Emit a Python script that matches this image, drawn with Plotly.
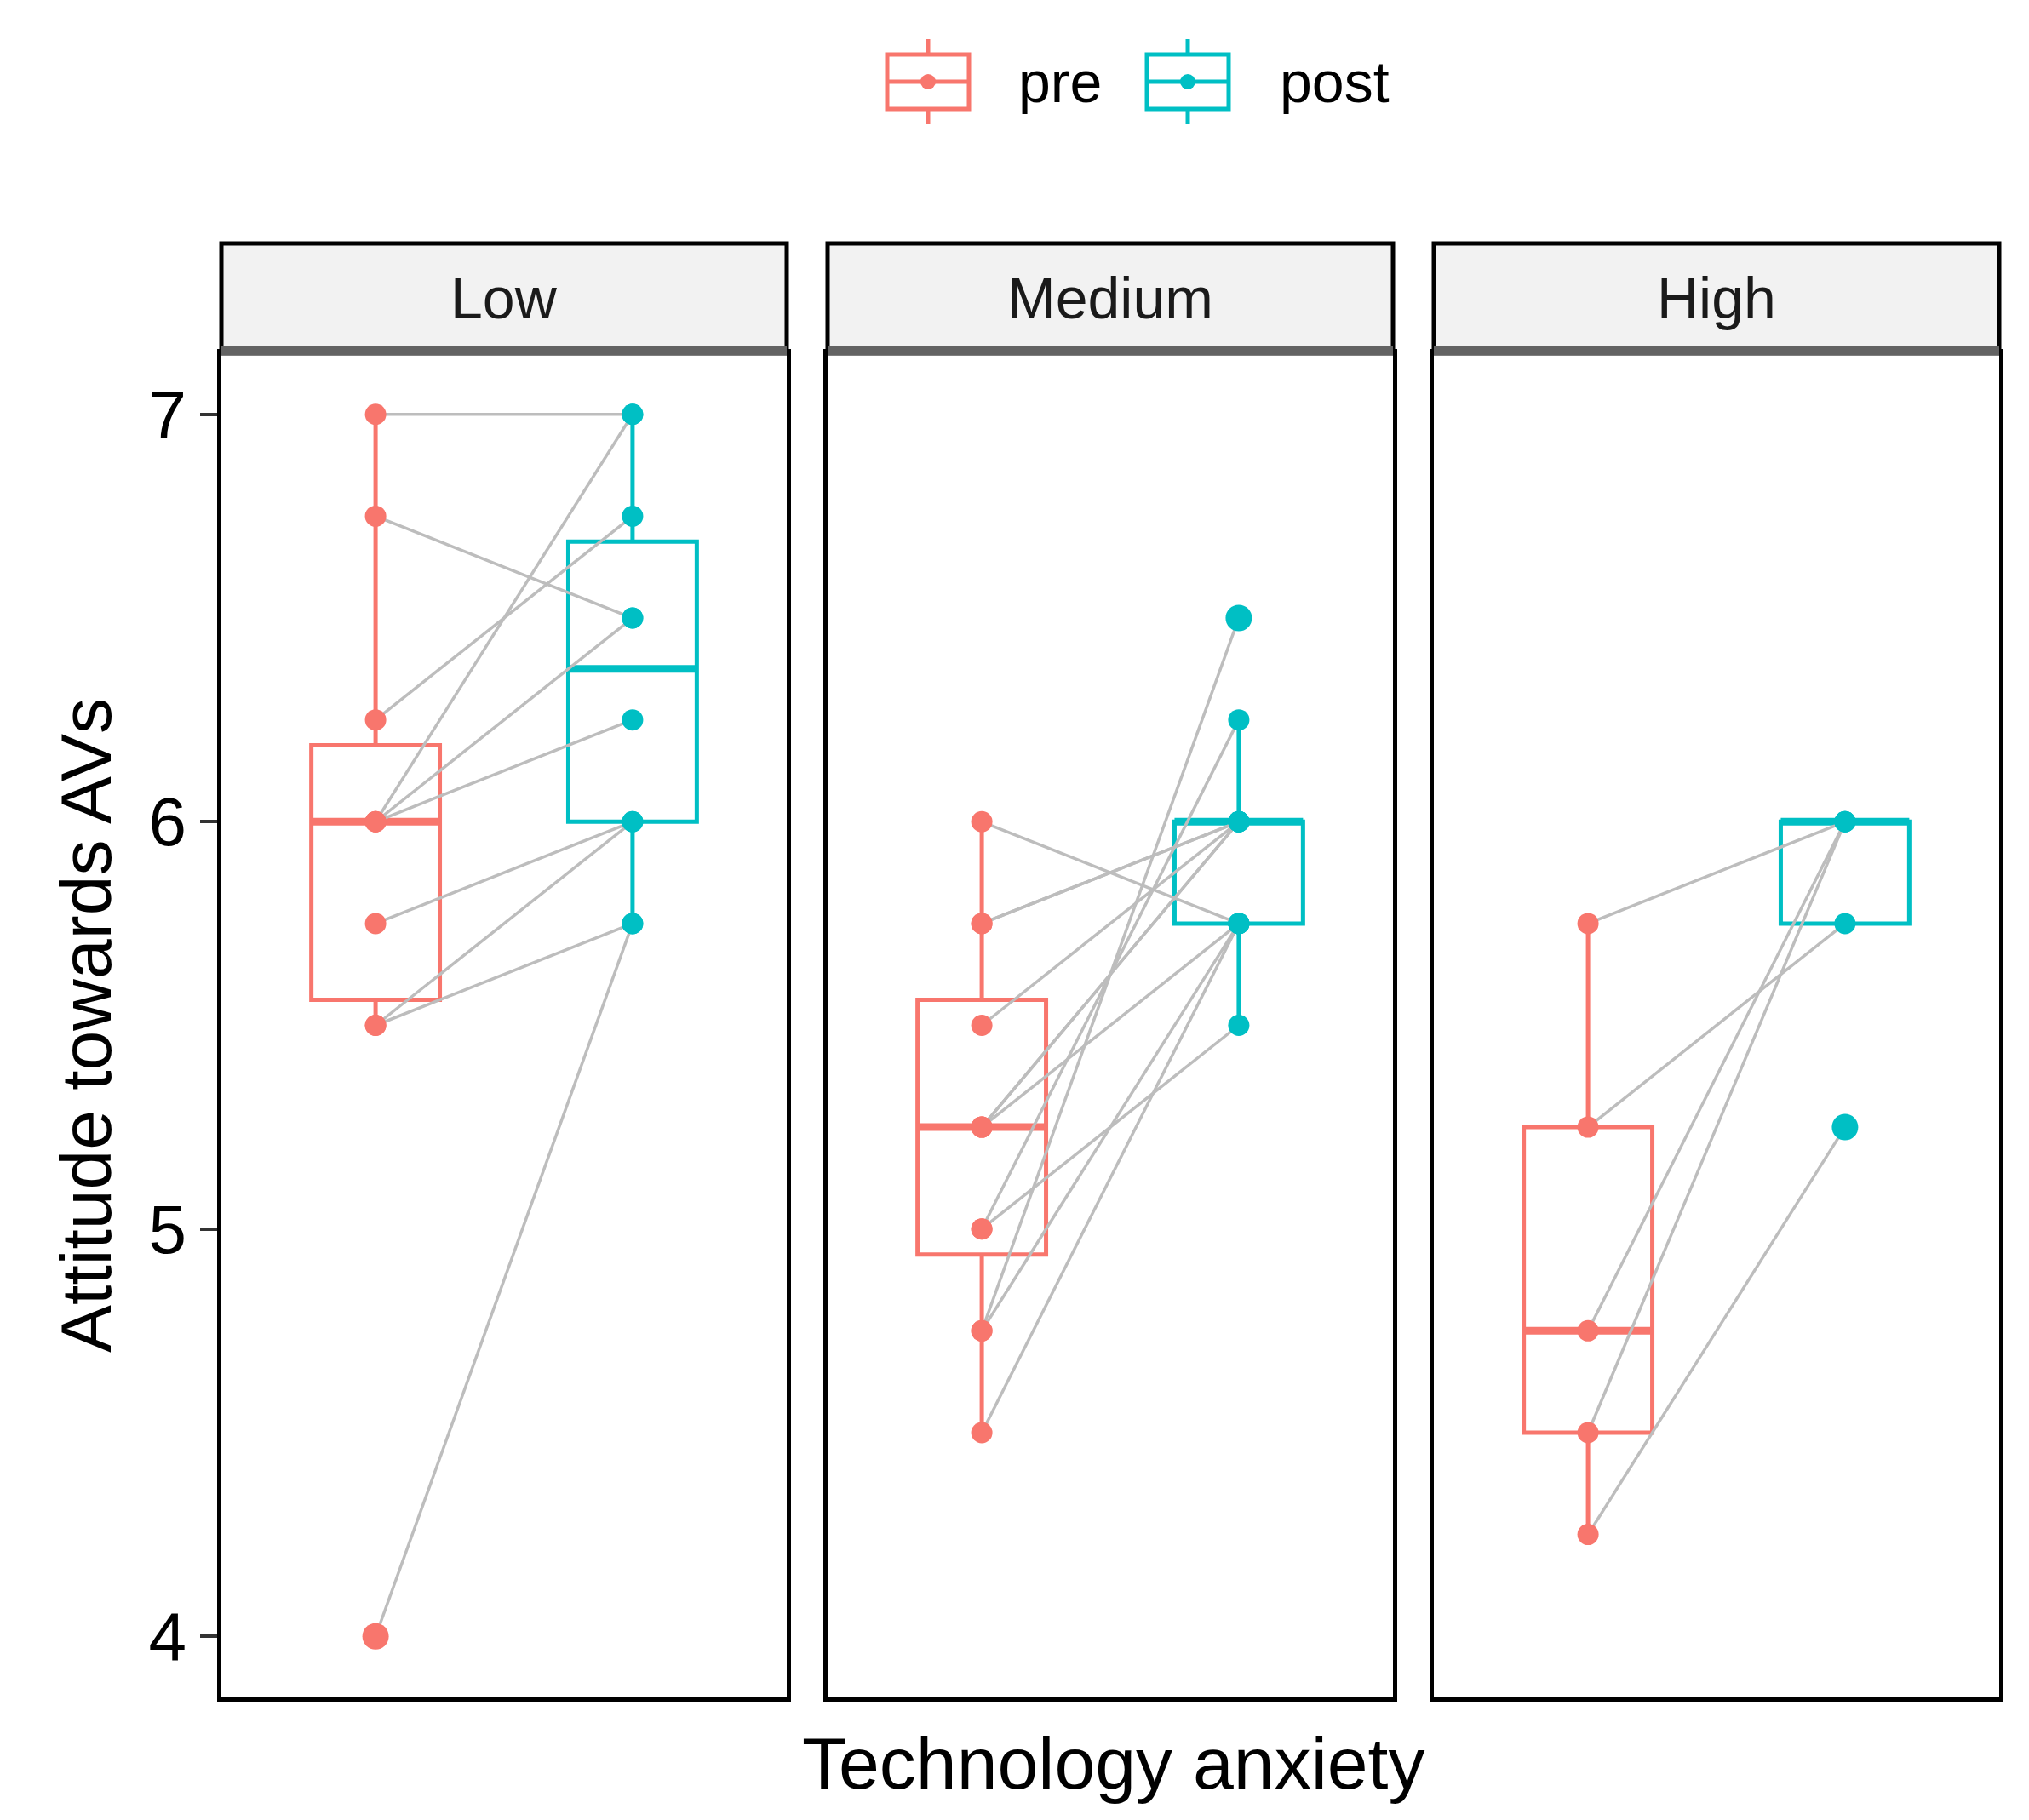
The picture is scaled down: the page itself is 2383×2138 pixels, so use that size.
import numpy as np
import plotly.graph_objects as go

# ---------------- data ----------------
panels = ["Low", "Medium", "High"]
conditions = ["pre", "post"]

low_pre = [7, 6.75, 6.25, 6, 6, 6, 5.75, 5.5, 5.5, 4]
low_post = [7, 6.5, 6.75, 7, 6.5, 6.25, 6, 6, 5.75, 5.75]

medium_pre = [6, 5.75, 5.75, 5.5, 5.25, 5.25, 5.25, 5, 5, 4.75, 4.75, 4.5]
medium_post = [5.75, 6, 6, 6, 6, 6, 5.75, 5.5, 6.25, 6.5, 5.75, 5.75]

high_pre = [5.75, 5.25, 4.75, 4.5, 4.25]
high_post = [6, 5.75, 6, 6, 5.25]

y_ticks = [4, 5, 6, 7]
y_title = "Attitude towards AVs"
x_title = "Technology anxiety"

# ---------------- styling ----------------
colors = {"pre": "#F8766D", "post": "#00BFC4"}
W, H = 2383, 2138
ML, MR, MT, MB = 252, 37, 407, 152
PW, PH = W - ML - MR, H - MT - MB
FONT = "Liberation Sans, Arial, sans-serif"

series = {"Low": (low_pre, low_post),
          "Medium": (medium_pre, medium_post),
          "High": (high_pre, high_post)}
panel_w, gap = 664, 48
domains = []
for k in range(3):
    a = k * (panel_w + gap)
    domains.append([a / PW, min(1.0, (a + panel_w) / PW)])

fig = go.Figure()
layout_axes = {}
shapes = []
annotations = []

for i, pname in enumerate(panels):
    sfx = "" if i == 0 else str(i + 1)
    xa, ya = "x" + sfx, "y" + sfx
    pre, post = series[pname]

    for j, (cond, vals) in enumerate(zip(conditions, (pre, post))):
        v = np.array(vals, dtype=float)
        q1, med, q3 = np.percentile(v, [25, 50, 75])
        iqr = q3 - q1
        lo = v[v >= q1 - 1.5 * iqr].min()
        hi = v[v <= q3 + 1.5 * iqr].max()
        fig.add_trace(go.Box(
            x=[j], q1=[q1], median=[med], q3=[q3],
            lowerfence=[lo], upperfence=[hi],
            width=0.5, whiskerwidth=0, boxpoints=False,
            fillcolor="rgba(255,255,255,0)",
            line=dict(color=colors[cond], width=5),
            xaxis=xa, yaxis=ya, showlegend=False, hoverinfo="skip"))
        # thicker median bar (ggplot style)
        fig.add_trace(go.Scatter(
            x=[j - 0.25, j + 0.25], y=[med, med], mode="lines",
            line=dict(color=colors[cond], width=9),
            xaxis=xa, yaxis=ya, showlegend=False, hoverinfo="skip"))

    # paired grey lines
    lx, ly = [], []
    for a, b in zip(pre, post):
        lx += [0, 1, None]
        ly += [a, b, None]
    fig.add_trace(go.Scatter(
        x=lx, y=ly, mode="lines", line=dict(color="#BDBDBD", width=3.5),
        xaxis=xa, yaxis=ya, showlegend=False, hoverinfo="skip"))

    # points (outliers slightly larger, like the boxplot outliers)
    for j, (cond, vals) in enumerate(zip(conditions, (pre, post))):
        v = np.array(vals, dtype=float)
        q1, q3 = np.percentile(v, [25, 75])
        iqr = q3 - q1
        sizes = [31 if (val < q1 - 1.5 * iqr or val > q3 + 1.5 * iqr) else 25 for val in v]
        fig.add_trace(go.Scatter(
            x=[j] * len(v), y=v, mode="markers",
            marker=dict(color=colors[cond], size=sizes, opacity=1, line=dict(width=0)),
            xaxis=xa, yaxis=ya, showlegend=False, hoverinfo="skip"))

    layout_axes["xaxis" + sfx] = dict(
        domain=domains[i], range=[-0.6, 1.6], type="linear",
        showticklabels=False, ticks="", showgrid=False, zeroline=False,
        showline=True, mirror=True, linecolor="black", linewidth=5,
        anchor=ya)
    yax = dict(
        range=[3.85, 7.15], showgrid=False, zeroline=False,
        showline=True, mirror=True, linecolor="black", linewidth=5,
        anchor=xa, domain=[0, 1])
    if i == 0:
        yax.update(tickvals=y_ticks, ticktext=[str(t) for t in y_ticks],
                   ticks="outside", ticklen=20, tickwidth=4, tickcolor="#333333",
                   tickfont=dict(size=80, color="black", family=FONT),
                   title=dict(text=y_title, font=dict(size=84, color="black", family=FONT),
                              standoff=18))
    else:
        yax.update(matches="y", showticklabels=False, ticks="")
    layout_axes["yaxis" + sfx] = yax

    # facet strip
    strip_h = 129 / PH
    shapes.append(dict(type="rect", xref=xa + " domain", yref=ya + " domain",
                       x0=0, x1=1, y0=1, y1=1 + strip_h,
                       fillcolor="#F2F2F2", line=dict(color="black", width=5)))
    shapes.append(dict(type="line", xref=xa + " domain", yref=ya + " domain",
                       x0=0, x1=1, y0=1 + 3 / PH, y1=1 + 3 / PH,
                       line=dict(color="#636363", width=10)))
    annotations.append(dict(text=pname, xref=xa + " domain", yref=ya + " domain",
                            x=0.5, y=1 + strip_h / 2, showarrow=False,
                            xanchor="center", yanchor="middle",
                            font=dict(size=68, color="#1A1A1A", family=FONT)))

# x axis title
annotations.append(dict(text=x_title, xref="paper", yref="paper", x=0.5,
                        y=(-(2063 - (H - MB)) / PH), showarrow=False,
                        xanchor="center", yanchor="middle",
                        font=dict(size=86, color="black", family=FONT)))

# ---------------- custom legend (ggplot-like keys) ----------------
def px_x(p):
    return (p - ML) / PW


def px_y(p):
    return 1 + (MT - p) / PH


legend_items = [("pre", 1034, 1186), ("post", 1339, 1493)]
for cond, kx, tx in legend_items:
    c = colors[cond]
    x0, x1 = kx, kx + 96
    xc = (x0 + x1) / 2
    yb0, yb1, yc = 56, 120, 88
    shapes.append(dict(type="line", xref="paper", yref="paper",
                       x0=px_x(xc), x1=px_x(xc), y0=px_y(38), y1=px_y(yb0),
                       line=dict(color=c, width=5)))
    shapes.append(dict(type="line", xref="paper", yref="paper",
                       x0=px_x(xc), x1=px_x(xc), y0=px_y(yb1), y1=px_y(138),
                       line=dict(color=c, width=5)))
    shapes.append(dict(type="rect", xref="paper", yref="paper",
                       x0=px_x(x0), x1=px_x(x1), y0=px_y(yb1), y1=px_y(yb0),
                       fillcolor="white", line=dict(color=c, width=5)))
    shapes.append(dict(type="line", xref="paper", yref="paper",
                       x0=px_x(x0), x1=px_x(x1), y0=px_y(yc), y1=px_y(yc),
                       line=dict(color=c, width=5)))
    shapes.append(dict(type="circle", xref="paper", yref="paper",
                       x0=px_x(xc - 9), x1=px_x(xc + 9), y0=px_y(yc + 9), y1=px_y(yc - 9),
                       fillcolor=c, line=dict(color=c, width=0)))
    annotations.append(dict(text=cond, xref="paper", yref="paper",
                            x=px_x(tx), y=px_y(yc), showarrow=False,
                            xanchor="left", yanchor="middle",
                            font=dict(size=68, color="black", family=FONT)))

fig.update_layout(
    width=W, height=H,
    margin=dict(l=ML, r=MR, t=MT, b=MB),
    paper_bgcolor="white", plot_bgcolor="white",
    showlegend=False,
    font=dict(family=FONT, color="black"),
    shapes=shapes, annotations=annotations,
    **layout_axes)

fig.write_html("out.html")
